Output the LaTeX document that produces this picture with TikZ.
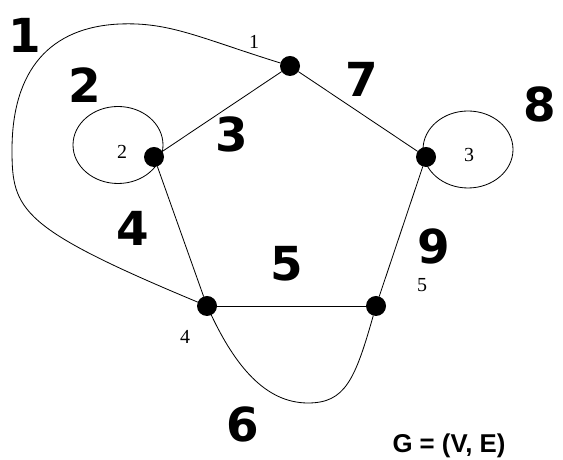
\documentclass[tikz,border=0pt]{standalone}
\usepackage{fontspec}
\setmainfont{Liberation Serif}
\newfontfamily\handfont{DejaVu Sans}
\newfontfamily\capfont{Liberation Sans}
\begin{document}
\begin{tikzpicture}[x=0.03cm,y=0.03cm,line join=round,line cap=round]
	\tikzset{v/.style={circle,fill=black,inner sep=0pt,minimum size=0.6cm},
		lab/.style={font=\fontsize{17}{17}\selectfont},
		hw/.style={font=\handfont\bfseries\fontsize{40}{40}\selectfont,inner sep=0pt},
		e/.style={line width=0.7pt}}
	\useasboundingbox (0,0) rectangle (563,460);
	% vertices
	\path (290,394)node[v](v1){} (154,303)node[v](v2){} (426,303)node[v](v3){}
	(207,154)node[v](v4){} (376,154)node[v](v5){};
	\foreach \x/\y in {v1/v2,v1/v3,v2/v4,v3/v5,v4/v5}{
		\draw[e] (\x)--(\y);	}
	% loops
	\draw[e] (118,315) ellipse (45 and 38.5) (468,310.5) ellipse (45 and 38.5);
	% curved edges
	\draw[e] (v1) .. controls (200,422) and (170,438) .. (120,436) .. controls (50,433) and (12,390) .. (12,310) .. controls (12,250) and (20,232) .. (v4);
	\draw[e] (v4) .. controls (235,95) and (265,57) .. (308,57) .. controls (345,57) and (355,80) .. (v5);
	% vertex labels
	\path (254,418)node[lab](l1){1} (122,308)node[lab](l2){2} (469,305)node[lab](l3){3}
	(185,123)node[lab](l4){4} (422,175)node[lab](l5){5};
	% edge numbers
	\path (25,425)node[hw](h1){1} (85,375)node[hw](h2){2} (232,326)node[hw](h3){3}
	(362,381)node[hw](h7){7} (540,356)node[hw](h8){8} (133,232)node[hw](h4){4}
	(287,196)node[hw](h5){5} (434,214)node[hw](h9){9} (243,36)node[hw](h6){6};
	\node[font=\capfont\bfseries\fontsize{22}{22}\selectfont] (g) at (449,14) {G = (V, E)};
\end{tikzpicture}
\end{document}
